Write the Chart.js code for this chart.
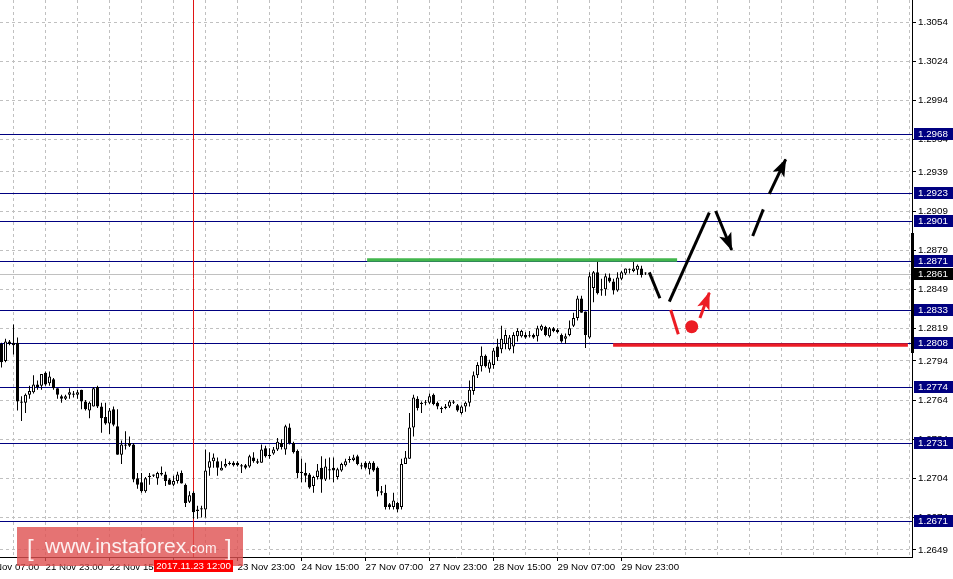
<!DOCTYPE html>
<html><head><meta charset="utf-8">
<script src="https://cdn.jsdelivr.net/npm/chart.js@4.4.1/dist/chart.umd.min.js"></script>
<style>html,body{margin:0;padding:0;background:#fff;overflow:hidden}canvas{display:block}</style>
</head><body><canvas id="c" width="953" height="579"></canvas>
<script>
// ---------- data (H1 candles) ----------
const open = [
1.2807,1.2794,1.2809,1.2808,1.2808,1.2763,1.2762,1.2768,1.2770,1.2776,
1.2775,1.2785,1.2777,1.2780,1.2773,1.2767,1.2765,1.2768,1.2769,1.2768,
1.2772,1.2763,1.2756,1.2759,1.2774,1.2759,1.2751,1.2746,1.2757,1.2744,
1.2722,1.2729,1.2731,1.2730,1.2704,1.2701,1.2694,1.2705,1.2706,1.2704,
1.2708,1.2707,1.2703,1.2699,1.2702,1.2708,1.2699,1.2686,1.2693,1.2679,
1.2680,1.2680,1.2712,1.2717,1.2717,1.2710,1.2713,1.2715,1.2716,1.2716,
1.2714,1.2714,1.2713,1.2720,1.2717,1.2716,1.2727,1.2721,1.2723,1.2726,
1.2731,1.2726,1.2743,1.2731,1.2725,1.2709,1.2708,1.2707,1.2698,1.2705,
1.2712,1.2703,1.2710,1.2712,1.2705,1.2710,1.2714,1.2718,1.2718,1.2721,
1.2714,1.2716,1.2711,1.2716,1.2712,1.2694,1.2693,1.2684,1.2682,1.2685,
1.2682,1.2715,1.2719,1.2743,1.2765,1.2761,1.2762,1.2762,1.2768,1.2762,
1.2758,1.2758,1.2759,1.2763,1.2760,1.2754,1.2759,1.2762,1.2771,1.2783,
1.2790,1.2798,1.2788,1.2791,1.2805,1.2803,1.2807,1.2803,1.2805,1.2813,
1.2813,1.2814,1.2813,1.2814,1.2813,1.2818,1.2820,1.2813,1.2819,1.2818,
1.2814,1.2811,1.2814,1.2821,1.2827,1.2842,1.2832,1.2812,1.2850,1.2862,
1.2849,1.2849,1.2858,1.2855,1.2848,1.2857,1.2861,1.2864,1.2863,1.2864,
1.2865,1.2861];
const high = [
1.2808,1.2811,1.2810,1.2822,1.2812,1.2767,1.2769,1.2775,1.2783,1.2779,
1.2784,1.2786,1.2786,1.2781,1.2773,1.2768,1.2768,1.2773,1.2771,1.2772,
1.2772,1.2764,1.2763,1.2774,1.2775,1.2762,1.2762,1.2758,1.2759,1.2757,
1.2733,1.2740,1.2736,1.2731,1.2708,1.2708,1.2705,1.2708,1.2707,1.2709,
1.2713,1.2709,1.2704,1.2706,1.2709,1.2710,1.2700,1.2694,1.2694,1.2683,
1.2683,1.2726,1.2724,1.2723,1.2720,1.2717,1.2719,1.2717,1.2717,1.2717,
1.2715,1.2715,1.2722,1.2724,1.2719,1.2730,1.2729,1.2727,1.2728,1.2735,
1.2734,1.2745,1.2746,1.2732,1.2726,1.2719,1.2716,1.2708,1.2706,1.2715,
1.2721,1.2719,1.2720,1.2720,1.2712,1.2716,1.2719,1.2721,1.2722,1.2722,
1.2716,1.2717,1.2717,1.2717,1.2713,1.2698,1.2699,1.2685,1.2693,1.2686,
1.2719,1.2725,1.2754,1.2768,1.2767,1.2763,1.2764,1.2769,1.2769,1.2763,
1.2759,1.2761,1.2764,1.2764,1.2761,1.2760,1.2763,1.2779,1.2786,1.2793,
1.2805,1.2799,1.2795,1.2804,1.2811,1.2821,1.2818,1.2814,1.2816,1.2819,
1.2818,1.2816,1.2817,1.2815,1.2821,1.2822,1.2821,1.2820,1.2820,1.2819,
1.2815,1.2815,1.2825,1.2831,1.2844,1.2844,1.2832,1.2862,1.2863,1.2872,
1.2857,1.2861,1.2861,1.2857,1.2862,1.2863,1.2865,1.2865,1.2870,1.2868,
1.2867,1.2862];
const low = [
1.2789,1.2793,1.2806,1.2799,1.2756,1.2748,1.2754,1.2765,1.2769,1.2772,
1.2772,1.2775,1.2775,1.2772,1.2765,1.2762,1.2764,1.2765,1.2766,1.2765,
1.2757,1.2756,1.2750,1.2759,1.2758,1.2739,1.2745,1.2738,1.2744,1.2722,
1.2715,1.2726,1.2728,1.2701,1.2696,1.2693,1.2693,1.2699,1.2705,1.2699,
1.2706,1.2698,1.2699,1.2698,1.2700,1.2700,1.2682,1.2685,1.2673,1.2673,
1.2674,1.2674,1.2706,1.2712,1.2706,1.2710,1.2712,1.2714,1.2713,1.2713,
1.2708,1.2711,1.2712,1.2716,1.2715,1.2716,1.2720,1.2719,1.2722,1.2725,
1.2726,1.2722,1.2730,1.2723,1.2704,1.2701,1.2701,1.2696,1.2693,1.2703,
1.2693,1.2702,1.2703,1.2701,1.2703,1.2709,1.2713,1.2716,1.2717,1.2714,
1.2711,1.2711,1.2707,1.2709,1.2690,1.2691,1.2680,1.2680,1.2680,1.2678,
1.2680,1.2715,1.2719,1.2736,1.2756,1.2754,1.2760,1.2761,1.2760,1.2757,
1.2754,1.2757,1.2758,1.2761,1.2755,1.2753,1.2755,1.2759,1.2768,1.2781,
1.2786,1.2789,1.2785,1.2788,1.2794,1.2800,1.2803,1.2802,1.2800,1.2809,
1.2812,1.2811,1.2812,1.2811,1.2809,1.2817,1.2813,1.2812,1.2816,1.2815,
1.2808,1.2807,1.2813,1.2820,1.2825,1.2831,1.2804,1.2811,1.2839,1.2845,
1.2844,1.2844,1.2854,1.2845,1.2847,1.2856,1.2860,1.2861,1.2862,1.2860,
1.2858,1.2860];
const close = [
1.2793,1.2809,1.2807,1.2806,1.2763,1.2762,1.2768,1.2771,1.2776,1.2774,
1.2784,1.2776,1.2782,1.2773,1.2768,1.2765,1.2767,1.2770,1.2768,1.2770,
1.2763,1.2757,1.2762,1.2773,1.2759,1.2750,1.2746,1.2756,1.2745,1.2722,
1.2730,1.2730,1.2729,1.2703,1.2699,1.2694,1.2704,1.2706,1.2707,1.2708,
1.2707,1.2702,1.2699,1.2702,1.2707,1.2700,1.2685,1.2691,1.2678,1.2680,
1.2681,1.2710,1.2717,1.2720,1.2712,1.2712,1.2715,1.2716,1.2714,1.2714,
1.2713,1.2712,1.2721,1.2717,1.2716,1.2726,1.2721,1.2722,1.2726,1.2732,
1.2728,1.2744,1.2731,1.2724,1.2708,1.2708,1.2706,1.2697,1.2705,1.2710,
1.2703,1.2713,1.2711,1.2710,1.2711,1.2715,1.2717,1.2718,1.2720,1.2715,
1.2713,1.2712,1.2716,1.2710,1.2694,1.2693,1.2682,1.2682,1.2687,1.2680,
1.2715,1.2720,1.2743,1.2766,1.2758,1.2762,1.2762,1.2767,1.2761,1.2759,
1.2757,1.2759,1.2763,1.2762,1.2756,1.2759,1.2762,1.2772,1.2783,1.2791,
1.2798,1.2790,1.2793,1.2802,1.2797,1.2811,1.2814,1.2812,1.2814,1.2817,
1.2817,1.2812,1.2813,1.2812,1.2819,1.2821,1.2814,1.2819,1.2817,1.2816,
1.2809,1.2813,1.2819,1.2827,1.2842,1.2831,1.2814,1.2859,1.2862,1.2846,
1.2848,1.2859,1.2855,1.2848,1.2858,1.2862,1.2865,1.2864,1.2865,1.2867,
1.2860,1.2861];

// horizontal levels (navy) and current bid
const levels = [1.2968, 1.2923, 1.2901, 1.2871, 1.2833, 1.2808, 1.2774, 1.2731, 1.2671];
const bidPrice = 1.2861;

// price axis tick labels
const yTickVals = [1.3054,1.3024,1.2994,1.2964,1.2939,1.2909,1.2879,1.2849,1.2819,1.2794,1.2764,1.2734,1.2704,1.2674,1.2649];

// time axis: bar index of labelled ticks and their text
const tickIdx  = [-4, 12, 28, 44, 60, 76, 92, 108, 124, 140, 156];
const tickText = ["21 Nov 07:00","21 Nov 23:00","22 Nov 15:00","23 Nov 07:00","23 Nov 23:00","24 Nov 15:00","27 Nov 07:00","27 Nov 23:00","28 Nov 15:00","29 Nov 07:00","29 Nov 23:00"];
const crossIdx = 49;
const crossText = "2017.11.23 12:00";

// forecast drawing (bar index, price)
const greenLine   = [[92.4, 1.28714], [169.9, 1.28714]];
const redLine     = [[153.9, 1.28062], [227.6, 1.28062]];
const blackPath1  = [[162.95, 1.28620], [165.6, 1.28421]];
const blackPath2  = [[167.95, 1.28395], [177.95, 1.29077]];
const blackArrow1 = [[179.55, 1.29090], [183.55, 1.28791]];
const blackDash   = [[188.8, 1.28899], [191.45, 1.29103]];
const blackArrow2 = [[192.95, 1.29221], [197.05, 1.29487]];
const redPath     = [[168.3, 1.28331], [170.2, 1.28145]];
const redDot      = [[173.55, 1.28203]];
const redArrow    = [[175.6, 1.28270], [177.95, 1.28464]];

// ---------- chart ----------
const FONT = "'Liberation Sans', Arial, sans-serif";
const xMin = 0.625, xMax = 228.625;
const yMin = 1.264363, yMax = 1.307088;
const labelMap = new Map(tickIdx.map((v, k) => [v, tickText[k]]));
const xTicks = [-4];
for (let v = 4; v <= 228; v += 8) xTicks.push(v);

const idx = open.map((_, k) => k + 1);
const wickData = idx.map((i, k) => ({x: i, y: [low[k], high[k]]}));
const bodyData = idx.map((i, k) => ({x: i, y: [Math.min(open[k], close[k]), Math.max(open[k], close[k])]}));
const bodyColors = idx.map((_, k) => close[k] > open[k] ? '#ffffff' : '#000000');

function seg(pts, color, width, extra) {
  return Object.assign({
    type: 'line', data: pts.map(p => ({x: p[0], y: p[1]})),
    borderColor: color, backgroundColor: color, borderWidth: width,
    pointRadius: 0, fill: false, tension: 0, order: 0, borderCapStyle: 'butt', clip: false
  }, extra || {});
}
const BLACK = '#000000', RED = '#ec1c24', GREEN = '#42b64c';

const overlay = {
  id: 'overlay',
  beforeDatasetsDraw(chart) {
    const {ctx, chartArea: a, scales: {x, y}} = chart;
    ctx.save();
    ctx.lineWidth = 1;
    let by = Math.round(y.getPixelForValue(bidPrice)) + 0.5;
    ctx.strokeStyle = '#c0c0c0';
    ctx.beginPath(); ctx.moveTo(a.left, by); ctx.lineTo(a.right, by); ctx.stroke();
    ctx.strokeStyle = '#000080';
    levels.forEach(v => {
      const yy = Math.round(y.getPixelForValue(v)) + 0.5;
      ctx.beginPath(); ctx.moveTo(a.left, yy); ctx.lineTo(a.right, yy); ctx.stroke();
    });
    const cx = Math.floor(x.getPixelForValue(crossIdx)) + 0.5;
    ctx.strokeStyle = '#e01414';
    ctx.beginPath(); ctx.moveTo(cx, a.top); ctx.lineTo(cx, a.bottom); ctx.stroke();
    ctx.restore();
  },
  afterDatasetsDraw(chart) {
    const ctx = chart.ctx;
    chart.data.datasets.forEach((ds, i) => {
      if (!ds.arrowHead) return;
      const pts = chart.getDatasetMeta(i).data;
      const p = pts[pts.length - 2], q = pts[pts.length - 1];
      const ang = Math.atan2(q.y - p.y, q.x - p.x);
      ctx.save();
      ctx.fillStyle = ds.borderColor;
      ctx.translate(q.x, q.y); ctx.rotate(ang);
      ctx.beginPath(); ctx.moveTo(1, 0); ctx.lineTo(-17, -6.5); ctx.lineTo(-13, 0); ctx.lineTo(-17, 6.5); ctx.closePath(); ctx.fill();
      ctx.restore();
    });
  },
  afterDraw(chart) {
    const {ctx, chartArea: a, scales: {x, y}} = chart;
    ctx.save();
    const t1 = y.getPixelForValue(1.2892), t2 = y.getPixelForValue(1.2800);
    ctx.fillStyle = '#000';
    ctx.fillRect(a.right - 1, Math.round(t1), 3, Math.round(t2 - t1));
    ctx.font = "9.8px " + FONT;
    ctx.textBaseline = 'middle'; ctx.textAlign = 'left';
    const box = (v, bg) => {
      const yy = Math.round(y.getPixelForValue(v));
      ctx.fillStyle = bg; ctx.fillRect(a.right + 2, yy - 6, 41, 12);
      ctx.fillStyle = '#fff'; ctx.fillText(v.toFixed(4), a.right + 6, yy + 0.5);
    };
    levels.forEach(v => box(v, '#000080'));
    box(bidPrice, '#000000');
    ctx.fillStyle = 'rgba(222,80,80,0.80)';
    ctx.fillRect(17, 527, 226, 39);
    ctx.fillStyle = '#fdf0f0';
    ctx.textBaseline = 'alphabetic';
    ctx.font = "24px " + FONT; ctx.fillText('[', 27, 556); ctx.fillText(']', 225, 556);
    ctx.font = "21px " + FONT; ctx.fillText('www.instaforex', 45, 553);
    const w = ctx.measureText('www.instaforex').width;
    ctx.font = "14px " + FONT; ctx.fillText('.com', 45 + w, 553);
    const cx = Math.floor(x.getPixelForValue(crossIdx)) + 0.5;
    ctx.fillStyle = '#ff0000';
    ctx.fillRect(Math.round(cx - 40), 560, 79, 12);
    ctx.fillStyle = '#fff'; ctx.font = "9.7px " + FONT; ctx.textAlign = 'center'; ctx.textBaseline = 'middle';
    ctx.fillText(crossText, cx, 566.5);
    ctx.restore();
  }
};

new Chart(document.getElementById('c'), {
  type: 'bar',
  data: {
    datasets: [
      {label: 'wick', data: wickData, backgroundColor: '#000', borderWidth: 0, barThickness: 1, grouped: false, inflateAmount: 0, minBarLength: 1, order: 3},
      {label: 'body', data: bodyData, backgroundColor: bodyColors, borderColor: '#000', borderWidth: 1, borderSkipped: false, barThickness: 3, grouped: false, inflateAmount: 0, minBarLength: 1, order: 2},
      seg(greenLine, GREEN, 3.5),
      seg(redLine, RED, 3.5),
      seg(blackPath1, BLACK, 3),
      seg(blackPath2, BLACK, 3),
      seg(blackArrow1, BLACK, 3, {arrowHead: true}),
      seg(blackDash, BLACK, 3),
      seg(blackArrow2, BLACK, 3, {arrowHead: true}),
      seg(redPath, RED, 3),
      seg(redArrow, RED, 3, {arrowHead: true}),
      seg(redDot, RED, 0, {showLine: false, pointRadius: 6.5, pointBackgroundColor: RED, pointBorderWidth: 0})
    ]
  },
  options: {
    responsive: false, animation: false, devicePixelRatio: 1, events: [],
    layout: {padding: 0, autoPadding: false},
    plugins: {legend: {display: false}, tooltip: {enabled: false}},
    scales: {
      x: {
        type: 'linear', position: 'bottom', min: xMin, max: xMax, offset: false,
        grid: {color: '#c0c0c0', lineWidth: 1, offset: false, drawTicks: true, tickLength: 4,
               tickColor: c => (c.tick && labelMap.has(c.tick.value)) ? '#000' : 'rgba(0,0,0,0)'},
        border: {display: true, color: '#000', width: 1, dash: [3, 3]},
        ticks: {autoSkip: false, maxRotation: 0, minRotation: 0, align: 'start', padding: 1, color: '#000',
                font: {family: FONT, size: 9.7}, callback: v => labelMap.get(v) || ''},
        afterBuildTicks: s => { s.ticks = xTicks.map(v => ({value: v})); },
        afterFit: s => { s.height = 22; s.paddingLeft = 0; s.paddingRight = 0; }
      },
      y: {
        type: 'linear', position: 'right', min: yMin, max: yMax, beginAtZero: false,
        grid: {color: '#c0c0c0', lineWidth: 1, tickLength: 4, tickColor: '#000'},
        border: {display: true, color: '#000', width: 1, dash: [3, 3]},
        ticks: {autoSkip: false, padding: 2, color: '#000', font: {family: FONT, size: 9.8}, callback: v => v.toFixed(4)},
        afterBuildTicks: s => { s.ticks = yTickVals.map(v => ({value: v})); },
        afterFit: s => { s.width = 41; s.paddingTop = 0; s.paddingBottom = 0; }
      }
    }
  },
  plugins: [overlay]
});
</script>
</body></html>
